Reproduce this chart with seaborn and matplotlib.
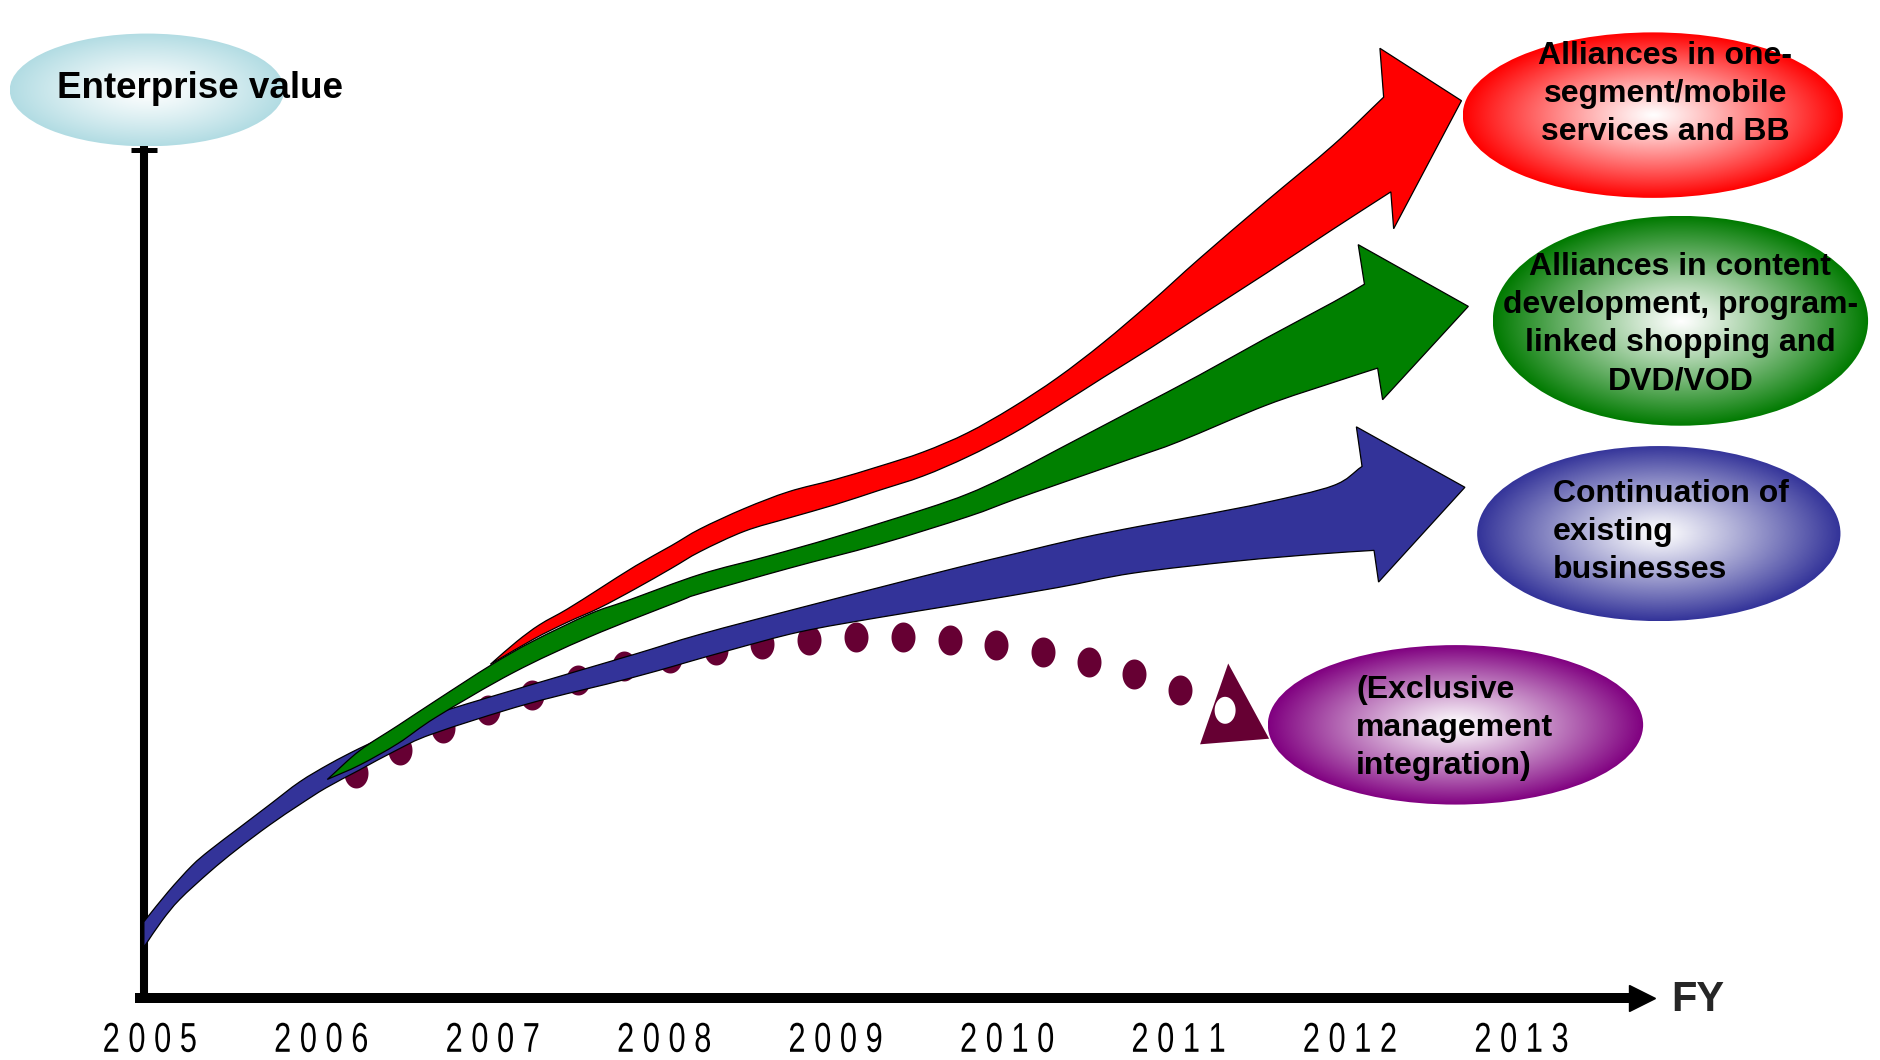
import numpy as np
import matplotlib
matplotlib.use("Agg")
import matplotlib.pyplot as plt
import matplotlib.colors as mcolors
from matplotlib.patches import Ellipse, PathPatch
from matplotlib.path import Path
from matplotlib.transforms import Affine2D
from matplotlib.patheffects import AbstractPathEffect
import seaborn as sns

# ------------------------------------------------------------------ data
years = [2005, 2006, 2007, 2008, 2009, 2010, 2011, 2012, 2013]
year_labels = ["2 0 0 5", "2 0 0 6", "2 0 0 7", "2 0 0 8", "2 0 0 9",
               "2 0 1 0", "2 0 1 1", "2 0 1 2", "2 0 1 3"]

# "Continuation of existing businesses" (blue band: upper / lower edge)
blue_top_year = [2004.965, 2005.105, 2005.245, 2005.350, 2005.524, 2005.699, 2005.874,
                 2006.049, 2006.224, 2006.434, 2006.650, 2007.273, 2007.818, 2008.210,
                 2008.790, 2009.252, 2009.720, 2010.070, 2010.420, 2010.769, 2011.119,
                 2011.510, 2011.902, 2012.070]
blue_top_value = [8.95, 12.45, 15.56, 17.40, 20.08, 22.77, 25.46, 27.58, 29.42, 31.40,
                  33.38, 37.20, 40.45, 42.86, 45.97, 48.37, 50.78, 52.48, 54.17, 55.59,
                  56.86, 58.42, 60.40, 62.66]
blue_bot_year = [2004.965, 2005.070, 2005.175, 2005.350, 2005.503, 2005.699, 2005.874,
                 2006.028, 2006.224, 2006.434, 2006.650, 2007.203, 2007.818, 2008.364,
                 2008.790, 2009.252, 2009.720, 2010.294, 2010.734, 2011.336, 2011.818,
                 2012.140]
blue_bot_value = [5.94, 9.05, 11.60, 14.85, 17.40, 20.37, 22.77, 24.75, 26.87, 29.14,
                  31.12, 34.65, 37.77, 40.88, 43.14, 44.84, 46.39, 48.37, 50.07, 51.49,
                  52.33, 52.76]
blue_tip = (2012.670, 60.20)

# "Alliances in content development ..." (green band)
green_top_year = [2006.035, 2006.224, 2006.448, 2006.671, 2006.986, 2007.231, 2007.566,
                  2007.783, 2008.210, 2008.601, 2008.993, 2009.510, 2009.769, 2010.000,
                  2010.294, 2010.734, 2011.119, 2011.510, 2011.902, 2012.084]
green_top_value = [25.74, 29.14, 32.11, 35.08, 39.18, 42.01, 45.26, 46.82, 49.93, 52.05,
                   54.31, 57.57, 59.41, 61.53, 64.64, 69.31, 73.41, 77.79, 82.04, 84.16]
green_bot_year = [2006.035, 2006.224, 2006.448, 2006.671, 2007.119, 2007.566, 2008.077,
                  2008.210, 2008.727, 2009.252, 2009.769, 2010.035, 2010.294, 2010.734,
                  2011.007, 2011.510, 2011.902, 2012.161]
green_bot_value = [25.74, 27.44, 29.99, 33.10, 38.33, 42.57, 46.68, 47.67, 50.64, 53.47,
                   56.72, 58.70, 60.54, 63.65, 65.63, 69.87, 72.56, 74.26]
green_tip = (2012.690, 81.54)

# "Alliances in one-segment/mobile services and BB" (red band)
red_top_year = [2006.986, 2007.140, 2007.273, 2007.434, 2007.622, 2007.832, 2008.042,
                2008.210, 2008.469, 2008.727, 2008.993, 2009.252, 2009.510, 2009.769,
                2010.028, 2010.294, 2010.559, 2010.839, 2011.119, 2011.510, 2011.902,
                2012.196]
red_top_value = [39.32, 42.01, 43.99, 45.83, 48.23, 50.92, 53.32, 55.30, 57.71, 59.69,
                 61.10, 62.66, 64.36, 66.62, 69.59, 73.13, 77.23, 82.04, 87.13, 93.92,
                 100.57, 106.22]
red_bot_year = [2006.986, 2007.238, 2007.434, 2007.622, 2007.832, 2008.042, 2008.210,
                2008.469, 2008.727, 2008.993, 2009.252, 2009.510, 2009.769, 2010.028,
                2010.294, 2010.559, 2010.839, 2011.119, 2011.510, 2011.902, 2012.238]
red_bot_value = [39.32, 42.29, 44.27, 45.97, 48.23, 50.64, 52.62, 55.02, 56.58, 58.13,
                 59.83, 61.53, 63.79, 66.48, 69.73, 73.13, 76.66, 80.34, 85.43, 90.66,
                 95.05]
red_tip = (2012.650, 105.80)

# "(Exclusive management integration)" dotted path
dot_year = [2006.201, 2006.458, 2006.710, 2006.971, 2007.227, 2007.496, 2007.764,
            2008.031, 2008.301, 2008.573, 2008.846, 2009.119, 2009.392, 2009.664,
            2009.937, 2010.210, 2010.476, 2010.741, 2011.007]
dot_value = [26.45, 29.21, 31.77, 33.92, 35.70, 37.47, 39.11, 40.10, 40.95, 41.73,
             42.22, 42.50, 42.50, 42.15, 41.58, 40.74, 39.60, 38.12, 36.28]
dot_end_year = [2011.310]
dot_end_value = [33.31]

# ------------------------------------------------------------------ style
sns.set_theme(style="white")
plt.rcParams["font.family"] = ["Liberation Sans", "DejaVu Sans"]

fig = plt.figure(figsize=(18.8, 10.6), dpi=100)
ax = fig.add_axes([0, 0, 1, 1])
XLIM = (2004.126, 2015.091)
YLIM = (-7.355, 117.68)
ax.set_xlim(*XLIM)
ax.set_ylim(*YLIM)
AXIS_X = 2004.965

# ------------------------------------------------------------------ dotted path
theta = np.linspace(0, 2 * np.pi, 64)
ell_marker = Path(np.column_stack([0.8 * np.cos(theta), np.sin(theta)]), closed=True)
sns.scatterplot(x=dot_year, y=dot_value, marker=ell_marker, s=466, color="#660033",
                linewidth=0, legend=False, ax=ax, zorder=2)
tri_marker = Path(np.array([[-4.3, 52.0], [-32.4, -28.8], [36.6, -23.2], [-4.3, 52.0]]),
                  closed=True)
sns.scatterplot(x=dot_end_year, y=dot_end_value, marker=tri_marker, s=5610,
                color="#660033", linewidth=0, legend=False, ax=ax, zorder=2)
hole = np.column_stack([-7.4 + 10.5 * np.cos(theta), 5.2 + 13.5 * np.sin(theta)])
sns.scatterplot(x=dot_end_year, y=dot_end_value, marker=Path(hole, closed=True), s=724,
                color="white", linewidth=0, legend=False, ax=ax, zorder=2.1)


# ------------------------------------------------------------------ arrows
def smooth_segments(P):
    """Catmull-Rom -> cubic Bezier control points through the given points."""
    Pext = np.vstack([2 * P[0] - P[1], P, 2 * P[-1] - P[-2]])
    verts = []
    for i in range(len(P) - 1):
        p0, p1, p2, p3 = Pext[i], Pext[i + 1], Pext[i + 2], Pext[i + 3]
        verts += [p1 + (p2 - p0) / 6.0, p2 - (p3 - p1) / 6.0, p2]
    return verts


def draw_arrow(top_x, top_y, bot_x, bot_y, tip, color, barb_top, barb_bot, z):
    T = ax.transData
    top = T.transform(np.column_stack([top_x, top_y]))
    bot = T.transform(np.column_stack([bot_x, bot_y]))
    tip_d = T.transform([tip])[0]
    jt, jb = top[-1], bot[-1]
    d = (jb - jt) / np.linalg.norm(jb - jt)
    bt = jt - d * barb_top
    bb = jb + d * barb_bot
    verts = [top[0]]
    codes = [Path.MOVETO]
    seg = smooth_segments(top)
    verts += seg
    codes += [Path.CURVE4] * len(seg)
    for p in (bt, tip_d, bb, jb):
        verts.append(p)
        codes.append(Path.LINETO)
    seg = smooth_segments(bot[::-1])
    verts += seg
    codes += [Path.CURVE4] * len(seg)
    verts += [top[0], top[0]]
    codes += [Path.LINETO, Path.CLOSEPOLY]
    vd = T.inverted().transform(np.array(verts))
    ax.add_patch(PathPatch(Path(vd, codes), facecolor=color, edgecolor="black",
                           linewidth=0.9, joinstyle="miter", zorder=z))


draw_arrow(blue_top_year, blue_top_value, blue_bot_year, blue_bot_value, blue_tip,
           "#333399", 40, 32, 3)
draw_arrow(green_top_year, green_top_value, green_bot_year, green_bot_value, green_tip,
           "#008000", 40, 32, 4)
draw_arrow(red_top_year, red_top_value, red_bot_year, red_bot_value, red_tip,
           "#ff0000", 49, 37, 5)


# ------------------------------------------------------------------ gradient ellipses
def gradient_ellipse(cx, cy, w, h, color, z, power=1.0):
    n = 400
    u = np.linspace(-1, 1, n)
    U, V = np.meshgrid(u, u)
    R = np.clip(np.sqrt(U ** 2 + V ** 2), 0, 1) ** power
    c = np.array(mcolors.to_rgb(color))
    img = (1 - R[..., None]) * np.ones(3) + R[..., None] * c
    ell = Ellipse((cx, cy), w, h, facecolor="none", edgecolor="none")
    ax.add_patch(ell)
    im = ax.imshow(img, extent=(cx - w / 2, cx + w / 2, cy - h / 2, cy + h / 2),
                   origin="lower", aspect="auto", interpolation="bilinear", zorder=z)
    im.set_clip_path(ell)


gradient_ellipse(2004.983, 107.07, 1.601, 13.30, "#b2dce3", 6, 1.2)
gradient_ellipse(2013.766, 104.10, 2.217, 19.52, "#ff0000", 6, 1.1)
gradient_ellipse(2013.927, 79.84, 2.189, 24.75, "#007a00", 6, 1.1)
gradient_ellipse(2013.801, 54.74, 2.119, 20.65, "#333399", 6, 1.1)
gradient_ellipse(2012.615, 32.18, 2.189, 18.81, "#800080", 6, 1.1)

bold = dict(fontweight="bold", color="black", zorder=7)
ax.text(2005.294, 107.20, "Enterprise value", fontsize=26.5, ha="center", va="center", **bold)
ax.text(2013.839, 106.56, "Alliances in one-\nsegment/mobile\nservices and BB",
        fontsize=23, ha="center", va="center", linespacing=1.35, **bold)
ax.text(2013.927, 79.43, "Alliances in content\ndevelopment, program-\nlinked shopping and\nDVD/VOD",
        fontsize=23, ha="center", va="center", linespacing=1.35, multialignment="center", **bold)
ax.text(2013.182, 54.96, "Continuation of\nexisting\nbusinesses",
        fontsize=23, ha="left", va="center", linespacing=1.35, **bold)
ax.text(2012.035, 31.77, "(Exclusive\nmanagement\nintegration)",
        fontsize=23, ha="left", va="center", linespacing=1.35, **bold)

# ------------------------------------------------------------------ axes
for s in ["top", "right"]:
    ax.spines[s].set_visible(False)
ax.spines["left"].set_position(("data", AXIS_X))
ax.spines["left"].set_bounds(0, 100)
ax.spines["left"].set_linewidth(5.8)
ax.spines["left"].set_color("black")
ax.spines["bottom"].set_position(("data", 0))
ax.spines["bottom"].set_bounds(AXIS_X - 0.02, 2013.64)
ax.spines["bottom"].set_linewidth(7.2)
ax.spines["bottom"].set_color("black")
ax.plot([2013.703], [0], marker=">", ms=19.4, color="black", clip_on=False, zorder=8)
ax.plot([AXIS_X], [100], marker="_", ms=19.4, mew=3.6, color="black", zorder=8)
ax.set_xticks([])
ax.set_yticks([])
ax.set_xlabel("")
ax.set_ylabel("")


class Condense(AbstractPathEffect):
    """Draw text horizontally condensed about its own centre (narrow-font look)."""

    def __init__(self, sx):
        super().__init__()
        self.sx = sx

    def draw_path(self, renderer, gc, tpath, affine, rgbFace=None):
        bb = tpath.get_extents(affine)
        cx = 0.5 * (bb.x0 + bb.x1)
        aff = affine + Affine2D().translate(-cx, 0).scale(self.sx, 1.0).translate(cx, 0)
        renderer.draw_path(gc, tpath, aff, rgbFace)


for yr, lab in zip(years, year_labels):
    ax.text(yr, -5.09, lab, fontsize=30, ha="center", va="center",
            family=["Liberation Sans", "DejaVu Sans"], color="black",
            path_effects=[Condense(0.74)])
ax.text(2014.028, -0.28, "FY", fontsize=30, fontweight="bold", ha="center", va="center")

ax.set_xlim(*XLIM)
ax.set_ylim(*YLIM)
fig.savefig("out.png", dpi=100)
